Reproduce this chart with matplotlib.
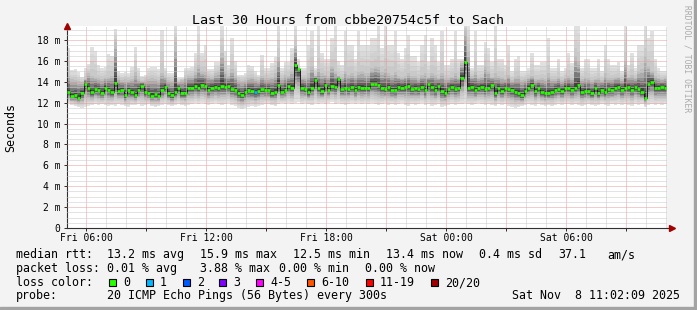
import matplotlib
matplotlib.use('Agg')
import matplotlib.pyplot as plt
import numpy as np
from matplotlib.patches import Rectangle
from matplotlib.ticker import MultipleLocator, FuncFormatter

plt.rcParams['font.family'] = ['DejaVu Sans Mono']

#%% data: 30 hours, 10 minute slots, time in hours since Fri 00:00
t_start = 5 + 2 / 60.0
hours = 30
days = ['Fri', 'Sat']

# median rtt (ms)
median = [
    13.0, 12.6, 12.7, 12.5, 12.9, 13.8, 13.4, 13.0, 13.3, 13.2, 12.9, 13.4, 13.2, 13.0, 13.9,
    13.1, 13.2, 12.7, 13.2, 13.0, 12.7, 13.2, 13.6, 13.0, 12.9, 12.6, 12.8, 12.6, 13.2, 13.5,
    12.9, 12.7, 13.0, 13.4, 12.9, 12.9, 13.4, 13.4, 13.6, 13.4, 13.7, 13.6, 13.2, 13.4, 13.5,
    13.4, 13.6, 13.5, 13.6, 13.3, 13.2, 12.9, 12.7, 13.0, 13.2, 13.1, 13.0, 13.1, 13.3, 13.2,
    13.2, 12.9, 13.0, 13.7, 13.0, 13.2, 13.6, 13.4, 15.6, 15.2, 13.4, 13.3, 13.0, 13.4, 14.2,
    13.4, 13.1, 13.7, 13.2, 13.6, 13.5, 14.3, 13.3, 13.4, 13.3, 13.5, 13.2, 13.5, 13.4, 13.4,
    13.4, 13.8, 13.8, 13.7, 13.4, 13.3, 13.5, 13.2, 13.2, 13.5, 13.4, 13.5, 13.6, 13.3, 13.4,
    13.3, 13.5, 13.2, 13.8, 13.5, 13.2, 13.6, 13.1, 12.9, 13.3, 13.5, 13.3, 13.4, 14.4, 15.9,
    13.4, 13.5, 13.2, 13.4, 13.5, 13.3, 13.4, 13.7, 12.9, 13.4, 13.1, 13.4, 13.3, 13.2, 13.0,
    12.9, 12.7, 13.1, 13.4, 13.7, 13.1, 13.4, 13.0, 12.9, 12.9, 13.0, 13.2, 13.3, 13.1, 13.4,
    13.4, 13.2, 13.4, 13.7, 13.0, 13.1, 13.1, 12.9, 13.4, 12.9, 13.2, 13.0, 13.3, 13.2, 13.4,
    13.5, 13.2, 13.4, 13.5, 13.2, 13.5, 13.3, 13.0, 12.5, 13.8, 14.0, 13.4, 13.4, 13.5, 13.4,
]

# highest ping of each slot (top of the light smoke)
ping_max = [
    17.2, 15.1, 15.2, 14.9, 14.5, 15.3, 15.7, 17.3, 17.0, 15.6, 15.3, 15.4, 16.7, 16.5, 19.1,
    15.0, 14.8, 14.9, 14.8, 15.4, 17.3, 15.3, 14.6, 14.7, 15.3, 15.4, 15.4, 15.2, 19.0, 15.3,
    14.8, 14.8, 19.6, 14.4, 14.4, 15.3, 15.3, 15.4, 16.8, 19.6, 16.8, 17.5, 15.2, 15.2, 15.9,
    15.9, 19.6, 17.0, 15.6, 18.2, 16.0, 14.7, 14.7, 14.8, 15.6, 15.5, 15.0, 14.7, 16.6, 15.3,
    15.3, 15.8, 16.4, 19.6, 15.3, 15.9, 15.9, 17.2, 19.6, 16.2, 15.3, 15.3, 17.5, 18.9, 15.3,
    19.6, 16.8, 16.2, 16.2, 18.2, 19.6, 16.0, 15.6, 18.9, 17.5, 17.5, 16.2, 18.9, 17.5, 17.5,
    17.5, 18.2, 18.2, 19.6, 17.2, 19.6, 17.5, 17.5, 18.9, 16.8, 16.2, 17.2, 18.5, 16.5, 16.5,
    15.9, 17.5, 18.5, 15.9, 18.2, 17.5, 15.9, 18.9, 15.6, 15.6, 16.2, 18.9, 16.2, 16.2, 19.6,
    19.6, 15.3, 18.9, 15.6, 15.6, 17.8, 17.2, 15.9, 19.6, 16.2, 16.2, 15.6, 17.5, 15.0, 16.2,
    16.5, 15.0, 15.0, 15.3, 16.8, 15.6, 15.6, 15.9, 15.9, 18.2, 15.3, 15.3, 16.2, 15.0, 15.3,
    16.8, 15.8, 19.6, 19.6, 15.3, 16.2, 16.2, 15.3, 15.3, 16.2, 15.0, 17.5, 16.2, 15.6, 15.6,
    15.9, 15.0, 19.6, 15.6, 16.8, 15.3, 17.5, 17.5, 19.6, 18.2, 18.9, 16.2, 15.3, 15.0, 15.0,
]

# upper part of the dense smoke
ping_upper = [
    14.6, 14.3, 14.2, 14.1, 14.0, 14.3, 14.8, 14.6, 14.5, 14.4, 14.3, 14.4, 14.5, 14.6, 17.8,
    14.4, 14.2, 14.3, 14.2, 14.3, 14.9, 14.3, 14.1, 14.2, 14.3, 14.4, 14.3, 14.2, 14.8, 14.5,
    14.2, 14.1, 17.8, 14.0, 14.2, 14.5, 14.6, 14.6, 14.9, 15.6, 15.0, 14.9, 14.6, 14.5, 14.8,
    14.9, 16.8, 15.0, 14.6, 15.2, 14.6, 14.2, 14.1, 14.2, 14.4, 14.5, 14.3, 14.2, 14.6, 14.4,
    14.4, 14.5, 14.8, 16.4, 14.4, 14.7, 14.6, 15.0, 17.4, 15.2, 14.5, 14.5, 14.8, 15.5, 14.6,
    15.2, 14.8, 14.7, 14.6, 15.5, 15.0, 14.6, 14.5, 15.0, 14.7, 14.8, 14.6, 14.9, 15.0, 14.8,
    14.8, 15.3, 15.5, 15.4, 14.9, 15.2, 14.8, 14.7, 14.9, 14.6, 14.5, 14.6, 14.8, 14.6, 14.6,
    14.4, 14.7, 14.8, 14.5, 14.8, 14.7, 14.4, 14.8, 14.4, 14.4, 14.5, 14.8, 14.5, 15.8, 19.0,
    17.0, 14.6, 14.9, 14.4, 14.5, 15.5, 15.0, 14.5, 14.8, 14.6, 14.5, 14.3, 14.7, 14.2, 14.5,
    14.6, 14.2, 14.3, 14.4, 14.6, 14.3, 14.3, 14.4, 14.3, 14.8, 14.3, 14.3, 14.5, 14.2, 14.4,
    14.6, 14.4, 16.5, 16.0, 14.3, 14.5, 14.4, 14.2, 14.3, 14.4, 14.2, 14.8, 14.4, 14.4, 14.5,
    14.5, 14.3, 16.0, 14.5, 14.7, 14.4, 15.0, 15.2, 16.5, 15.5, 15.0, 14.6, 14.4, 14.3, 14.4,
]

# lowest ping of each slot
ping_min = [
    12.0, 11.8, 11.7, 11.6, 11.5, 11.6, 11.7, 11.8, 11.9, 11.8, 11.9, 11.8, 11.7, 11.8, 11.7,
    11.9, 11.8, 11.7, 11.6, 11.8, 11.8, 11.9, 11.7, 11.8, 11.9, 11.7, 11.6, 11.7, 11.8, 11.9,
    11.8, 11.7, 11.8, 11.9, 11.8, 11.7, 11.8, 11.9, 12.0, 11.9, 12.0, 11.9, 11.8, 11.9, 12.0,
    11.9, 11.8, 11.9, 12.0, 11.8, 11.7, 11.5, 11.4, 11.5, 11.6, 11.7, 11.6, 11.7, 11.8, 11.9,
    11.9, 11.8, 11.7, 11.9, 12.0, 11.9, 12.0, 11.9, 12.0, 12.1, 11.9, 12.0, 11.9, 11.8, 12.0,
    11.9, 12.0, 11.9, 12.0, 12.1, 11.9, 12.0, 11.9, 11.8, 11.9, 12.0, 11.9, 12.0, 11.9, 12.0,
    11.9, 12.0, 11.9, 11.8, 11.9, 12.0, 11.8, 11.9, 11.8, 11.9, 12.0, 11.8, 11.7, 11.9, 11.8,
    11.9, 12.0, 11.8, 11.9, 11.7, 11.8, 11.9, 11.6, 11.7, 11.8, 11.9, 11.8, 11.9, 11.9, 12.0,
    11.9, 11.8, 11.9, 12.0, 11.9, 11.8, 11.9, 11.8, 11.7, 11.9, 11.8, 11.9, 11.7, 11.6, 11.5,
    11.6, 11.7, 11.8, 11.9, 11.8, 11.7, 11.9, 11.8, 11.7, 11.8, 11.7, 11.8, 11.9, 11.8, 11.9,
    11.9, 11.8, 11.9, 11.8, 11.7, 11.8, 11.9, 11.8, 11.7, 11.8, 11.9, 11.8, 11.7, 11.9, 11.8,
    11.9, 11.8, 11.9, 11.8, 11.7, 11.9, 11.8, 11.9, 11.6, 11.8, 11.9, 11.8, 11.9, 11.8, 11.9,
]

# slots with lost pings
loss_slot = [56]
loss_count = [1]

loss_colors = ['#26ff00', '#00b8ff', '#0059ff', '#7e00ff', '#ff00ff', '#ff5500', '#ff0000', '#a00000']
loss_labels = ['0', '1', '2', '3', '4-5', '6-10', '11-19', '20/20']

title = 'Last 30 Hours from cbbe20754c5f to Sach'
stats_rtt = ['13.2 ms avg', '15.9 ms max', '12.5 ms min', '13.4 ms now', '0.4 ms sd', '37.1', 'am/s']
stats_loss = ['0.01 % avg', '3.88 % max', '0.00 % min', '0.00 % now']
probe = '20 ICMP Echo Pings (56 Bytes) every 300s'
stamp = 'Sat Nov  8 11:02:09 2025'

#%% figure
W, H = 697.0, 310.0
def fx(x):
    return x / W
def fy(y):
    return 1 - y / H

fig = plt.figure(figsize=(W / 100, H / 100), dpi=100)
fig.patch.set_facecolor('#f3f3f3')
fig.patches.append(Rectangle((fx(694), 0), 3 / W, 1, transform=fig.transFigure, color='#a3a3a3'))
fig.patches.append(Rectangle((0, 0), 1, 3 / H, transform=fig.transFigure, color='#a3a3a3'))

ax = fig.add_axes([fx(67), 82 / H, 600 / W, 202 / H])
ax.set_facecolor('white')

med = np.array(median)
hi = np.array(ping_max)
up = np.array(ping_upper)
lo = np.array(ping_min)
n = len(med)
edges = t_start + np.arange(n + 1) * hours / n
def ext(a):
    return np.append(a, a[-1])

# smoke: 10 layers, light outside, dark near the median
n_out, n_in = 4, 6
shades = [0.88, 0.85, 0.82, 0.79, 0.74, 0.67, 0.58, 0.48, 0.37, 0.26]
for k in range(n_out + n_in):
    if k < n_out:
        top = up + (hi - up) * (1 - k / n_out)
    else:
        top = med + (up - med) * (1 - (k - n_out) / n_in)
    bot = med - (med - lo) * (1 - k / (n_out + n_in))
    ax.fill_between(edges, ext(bot), ext(top), step='post', color=str(shades[k]), lw=0, zorder=1)

# median
ax.step(edges, ext(med), where='post', color='#1a1a1a', lw=0.7, zorder=3)
cols = [loss_colors[0]] * n
for i, c in zip(loss_slot, loss_count):
    cols[i] = loss_colors[c]
ax.hlines(med, edges[:-1], edges[1:], colors=cols, lw=1.9, zorder=4)

ax.set_xlim(t_start, t_start + hours)
ax.set_ylim(0, 19.35)

# grid
ax.xaxis.set_major_locator(MultipleLocator(3))
ax.xaxis.set_minor_locator(MultipleLocator(1))
ax.yaxis.set_major_locator(MultipleLocator(2))
ax.yaxis.set_minor_locator(MultipleLocator(0.5))
ax.set_axisbelow(False)
ax.grid(which='minor', color='#c8c8c8', linestyle=(0, (1, 1)), lw=0.72)
ax.grid(which='major', color='#e89a9a', linestyle=(0, (1, 1)), lw=0.72)

def xfmt(h, pos):
    if round(h) % 6:
        return ''
    return '%s %02d:00' % (days[int(h // 24)], int(h % 24))
def yfmt(v, pos):
    return '0' if v == 0 else '%d m' % v
ax.xaxis.set_major_formatter(FuncFormatter(xfmt))
ax.yaxis.set_major_formatter(FuncFormatter(yfmt))
ax.tick_params(which='minor', length=0)
ax.tick_params(which='major', length=2.2, width=0.72, color='#303030', labelsize=7, direction='out')
ax.tick_params(axis='x', pad=1.5)
ax.tick_params(axis='y', pad=2.5)

for s in ['top', 'right']:
    ax.spines[s].set_visible(False)
for s in ['left', 'bottom']:
    ax.spines[s].set_color('#303030')
    ax.spines[s].set_linewidth(0.8)
ax.plot([0], [1.0], marker='^', ms=4, color='#a00000', transform=ax.transAxes, clip_on=False, zorder=6)
ax.plot([1.008], [0], marker='>', ms=4, color='#a00000', transform=ax.transAxes, clip_on=False, zorder=6)
ax.plot([1.0, 1.006], [0, 0], color='#303030', lw=0.8, transform=ax.transAxes, clip_on=False)

#%% texts
fs = 8.4
fig.text(fx(348), fy(24), title, ha='center', va='baseline', fontsize=9.6)
fig.text(fx(11), fy(127.5), 'Seconds', rotation=90, ha='center', va='center', fontsize=fs)
fig.text(fx(687), fy(5), 'RRDTOOL / TOBI OETIKER', rotation=270, ha='center', va='top',
         fontsize=5.8, color='#aaaaaa')

rtt_x = [107, 200, 293, 386, 479, 558, 607]
fig.text(fx(16), fy(258), 'median rtt:', va='baseline', fontsize=fs)
for x, s in zip(rtt_x, stats_rtt):
    fig.text(fx(x), fy(258), s, va='baseline', fontsize=fs)

loss_x = [107, 200, 279, 365]
fig.text(fx(16), fy(272), 'packet loss:', va='baseline', fontsize=fs)
for x, s in zip(loss_x, stats_loss):
    fig.text(fx(x), fy(272), s, va='baseline', fontsize=fs)

box_x = [109, 146, 183, 219, 256, 307, 366, 431]
fig.text(fx(16), fy(286), 'loss color:', va='baseline', fontsize=fs)
for x, c, s in zip(box_x, loss_colors, loss_labels):
    fig.patches.append(Rectangle((fx(x), fy(286)), 7 / W, 7 / H, transform=fig.transFigure,
                                 facecolor=c, edgecolor='black', lw=0.8))
    fig.text(fx(x + 14), fy(286), s, va='baseline', fontsize=fs)

fig.text(fx(16), fy(299), 'probe:', va='baseline', fontsize=fs)
fig.text(fx(107), fy(299), probe, va='baseline', fontsize=fs)
fig.text(fx(680), fy(299), stamp, ha='right', va='baseline', fontsize=fs)

fig.savefig('out.png', dpi=100, facecolor=fig.get_facecolor())
